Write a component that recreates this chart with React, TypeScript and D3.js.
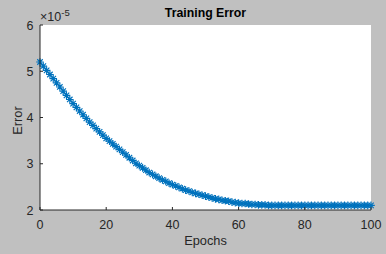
import React from "react";
import * as d3 from "d3";

const epochs: number[] = Array.from({ length: 101 }, (_, i) => i);
const errorValues: number[] = [
  5.20, 5.11, 5.02, 4.93, 4.84, 4.75, 4.66, 4.57, 4.48, 4.39, 4.30,
  4.22, 4.14, 4.06, 3.98, 3.90, 3.83, 3.76, 3.69, 3.62, 3.55,
  3.49, 3.43, 3.37, 3.31, 3.25, 3.19, 3.13, 3.07, 3.01, 2.96,
  2.91, 2.86, 2.81, 2.77, 2.73, 2.69, 2.65, 2.62, 2.58, 2.55,
  2.52, 2.49, 2.46, 2.43, 2.41, 2.38, 2.36, 2.34, 2.32, 2.30,
  2.28, 2.26, 2.24, 2.23, 2.21, 2.20, 2.19, 2.17, 2.16, 2.15,
  2.14, 2.14, 2.13, 2.12, 2.12, 2.11, 2.11, 2.11, 2.10, 2.10,
  2.10, 2.10, 2.10, 2.10, 2.10, 2.10, 2.10, 2.10, 2.10, 2.10,
  2.10, 2.10, 2.10, 2.10, 2.10, 2.10, 2.10, 2.10, 2.10, 2.10,
  2.10, 2.10, 2.10, 2.10, 2.10, 2.10, 2.10, 2.10, 2.10, 2.10,
];
const xTicks: number[] = [0, 20, 40, 60, 80, 100];
const yTicks: number[] = [2, 3, 4, 5, 6];

const W = 386;
const H = 254;
const left = 40;
const right = 371;
const top = 25;
const bottom = 210;
const BLUE = "#0072BD";
const TXT = "#262626";
const FONT = "Helvetica, Arial, 'Liberation Sans', sans-serif";

export default function App() {
  const x = d3.scaleLinear().domain([0, 100]).range([left, right]);
  const y = d3.scaleLinear().domain([2, 6]).range([bottom, top]);
  const line = d3
    .line<number>()
    .x((_, i) => x(epochs[i]))
    .y((d) => y(d));
  const m = 3.8;
  const md = m * 0.72;
  const star = `M${-m},0L${m},0M0,${-m}L0,${m}M${-md},${-md}L${md},${md}M${-md},${md}L${md},${-md}`;
  return (
    <svg
      width={W}
      height={H}
      style={{ position: "absolute", left: 0, top: 0, display: "block" }}
    >
      <rect x={0} y={0} width={W} height={H} fill="#c0c0c0" />
      <rect x={left} y={top} width={right - left} height={bottom - top} fill="#ffffff" />
      <path d={line(errorValues) || ""} fill="none" stroke={BLUE} strokeWidth={0.8} />
      {errorValues.map((v, i) => (
        <path
          key={i}
          d={star}
          transform={`translate(${x(epochs[i])},${y(v)})`}
          stroke={BLUE}
          strokeWidth={1.15}
          fill="none"
        />
      ))}
      {/* axes */}
      <line x1={left} x2={right} y1={bottom} y2={bottom} stroke={TXT} strokeWidth={1} />
      <line x1={left} x2={left} y1={top} y2={bottom} stroke={TXT} strokeWidth={1} />
      {xTicks.map((t) => (
        <g key={"x" + t}>
          <line x1={x(t)} x2={x(t)} y1={bottom} y2={bottom - 3} stroke={TXT} />
          <text
            x={x(t)}
            y={bottom + 19}
            textAnchor="middle"
            fontFamily={FONT}
            fontSize={12.5}
            fill={TXT}
          >
            {t}
          </text>
        </g>
      ))}
      {yTicks.map((t) => (
        <g key={"y" + t}>
          <line x1={left} x2={left + 3} y1={y(t)} y2={y(t)} stroke={TXT} />
          <text
            x={left - 6.5}
            y={y(t) + 4.5}
            textAnchor="end"
            fontFamily={FONT}
            fontSize={12.5}
            fill={TXT}
          >
            {t}
          </text>
        </g>
      ))}
      <text x={40} y={21} fontFamily={FONT} fontSize={12.5} fill={TXT}>
        ×10
        <tspan dy={-5} fontSize={9.5}>-5</tspan>
      </text>
      <text
        x={(left + right) / 2}
        y={17}
        textAnchor="middle"
        fontFamily={FONT}
        fontSize={12.3}
        fontWeight="bold"
        fill="#000"
      >
        Training Error
      </text>
      <text
        x={(left + right) / 2}
        y={245}
        textAnchor="middle"
        fontFamily={FONT}
        fontSize={12.8}
        fill={TXT}
      >
        Epochs
      </text>
      <text
        transform={`translate(22,${(top + bottom) / 2 + 3}) rotate(-90)`}
        textAnchor="middle"
        fontFamily={FONT}
        fontSize={12.8}
        fill={TXT}
      >
        Error
      </text>
    </svg>
  );
}
